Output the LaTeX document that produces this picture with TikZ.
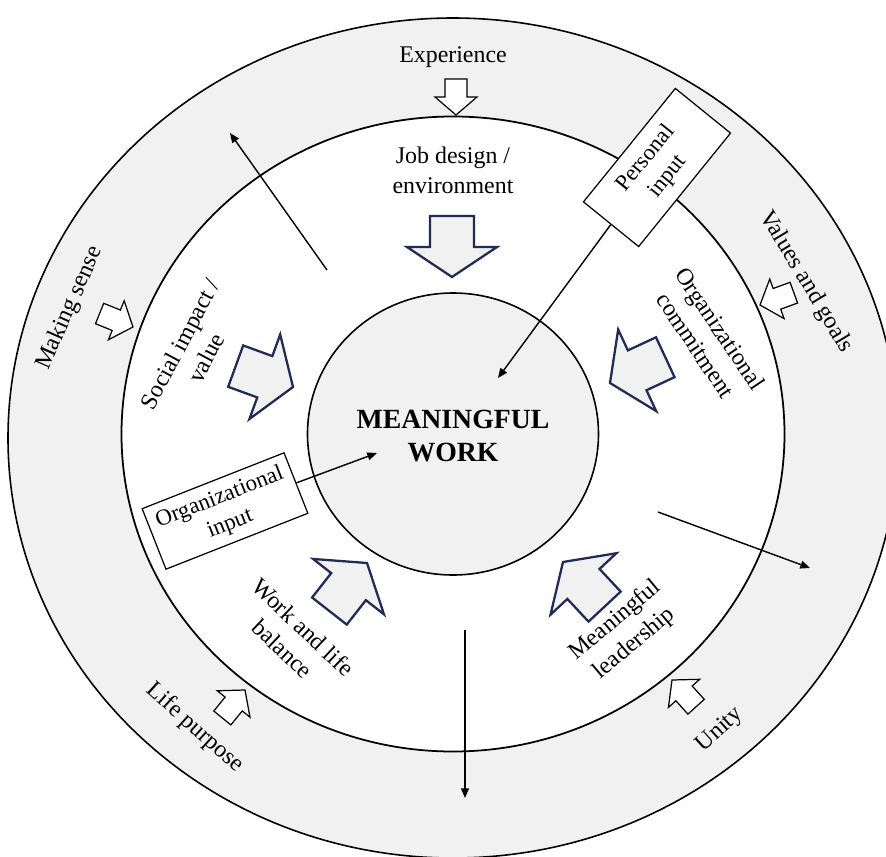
\documentclass[tikz,border=0pt]{standalone}
\usepackage{fontspec}
\setmainfont{Liberation Serif}
\usetikzlibrary{arrows.meta}
\definecolor{ringgray}{RGB}{241,241,241}
\definecolor{navy}{RGB}{33,43,85}

\begin{document}
\begin{tikzpicture}[x=0.02cm, y=0.02cm,
        txt/.style={font=\fontsize{13.6}{17}\selectfont, align=center, inner sep=0pt},
        inbox/.style={draw, fill=white, line width=0.7pt, align=center, inner sep=2pt, font=\fontsize{13}{16}\selectfont},
        thinarr/.style={line width=0.8pt, -{Triangle[length=5.5pt, width=4.5pt]}},
        bigarr/.pic={\draw[navy, fill=ringgray, line width=1.3pt] (0,0) -- (-30,45) -- (-30,22) -- (-61,22) -- (-61,-22) -- (-30,-22) -- (-30,-45) -- cycle;},
        smallarr/.pic={\draw[fill=white, line width=0.7pt] (0,0) -- (-18,21) -- (-18,11) -- (-36,11) -- (-36,-11) -- (-18,-11) -- (-18,-21) -- cycle;}]
        \useasboundingbox (-453,-422) rectangle (433,434);
        \clip (-453,-422) rectangle (433,434);
        \draw[fill=ringgray, line width=0.9pt] (0,-4) ellipse [x radius=445, y radius=420];
        \draw[fill=white, line width=1pt] (0,0) ellipse [x radius=331.5, y radius=317.5];
        \draw[fill=ringgray, line width=0.9pt] (0,0) ellipse [x radius=145.5, y radius=141];
        \node[txt] (experience) at (0,377) {Experience};
        \node[txt, rotate=66] (makingsense) at (-383,126) {Making sense};
        \node[txt, rotate=-59] (valuesgoals) at (353,152) {Values and goals};
        \node[txt, rotate=-42] (lifepurpose) at (-258,-294) {Life purpose};
        \node[txt, rotate=42] (unity) at (267,-296) {Unity};
        \pic[rotate=-90] at (3,319) {smallarr};
        \pic[rotate=-22] at (-320,107) {smallarr};
        \pic[rotate=200] at (307,129) {smallarr};
        \pic[rotate=51] at (-208,-256) {smallarr};
        \pic[rotate=132] at (219,-246) {smallarr};
        \node[txt] (jobdesign) at (0,264) {Job design /\\environment};
        \node[txt, rotate=62] (social) at (-260,83) {Social impact /\\value};
        \node[txt, rotate=-56] (orgcommit) at (255,97) {Organizational\\commitment};
        \node[txt, rotate=-43.5] (worklife) at (-160,-204) {Work and life\\balance};
        \node[txt, rotate=40] (leadership) at (172,-198) {Meaningful\\leadership};
        \pic[rotate=-90] at (-1,157) {bigarr};
        \pic[rotate=-20] at (-160,47) {bigarr};
        \pic[rotate=205] at (157,51) {bigarr};
        \pic[rotate=52] at (-86,-129) {bigarr};
        \pic[rotate=133] at (110,-128) {bigarr};
        \node[txt, font=\fontsize{15.8}{18.7}\selectfont\bfseries] (mw) at (0,-2) {MEANINGFUL\\WORK};
        \coordinate (ulstart) at (-126,164);
        \coordinate (ulend) at (-223,301);
        \coordinate (rstart) at (205,-78);
        \coordinate (rend) at (357,-134);
        \coordinate (bstart) at (12,-196);
        \coordinate (bend) at (12,-364);
        \draw[thinarr] (ulstart) -- (ulend);
        \draw[thinarr] (rstart) -- (rend);
        \draw[thinarr] (bstart) -- (bend);
        \node[inbox, rotate=51, minimum width=2.92cm, minimum height=1.42cm] (personal) at (204,266.5) {Personal\\input};
        \node[inbox, rotate=21.5, minimum width=3.05cm, minimum height=1.3cm] (orginput) at (-228,-77) {Organizational\\input};
        \coordinate (ptip) at (45,56);
        \coordinate (otip) at (-76,-19);
        \draw[thinarr] (personal.west) -- (ptip);
        \draw[thinarr] (orginput.east) -- (otip);
\end{tikzpicture}
\end{document}
